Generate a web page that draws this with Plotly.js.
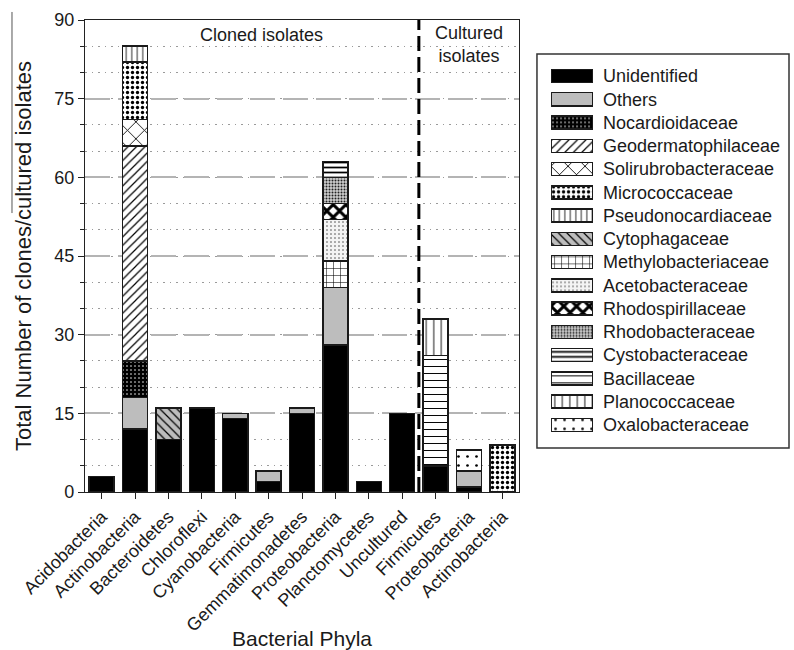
<!DOCTYPE html>
<html>
<head>
<meta charset="utf-8">
<script src="https://cdn.plot.ly/plotly-3.0.1.min.js"></script>
<style>
  html, body { margin: 0; padding: 0; background: #fff; }
  #chart { width: 794px; height: 650px; }
</style>
</head>
<body>
<div id="chart"></div>
<script>
// Phyla along the x axis: ten cloned groups, then three cultured groups
const categories = ['Acidobacteria', 'Actinobacteria', 'Bacteroidetes', 'Chloroflexi',
  'Cyanobacteria', 'Firmicutes', 'Gemmatimonadetes', 'Proteobacteria', 'Planctomycetes',
  'Uncultured', 'Firmicutes', 'Proteobacteria', 'Actinobacteria'];

// Counts per family, one value per phylum above (stacked bottom to top in this order)
const unidentified         = [3, 12, 10, 16, 14, 2, 15, 28, 2, 15, 5, 1, 0];
const others               = [0, 6, 0, 0, 1, 2, 1, 11, 0, 0, 0, 3, 0];
const nocardioidaceae      = [0, 7, 0, 0, 0, 0, 0, 0, 0, 0, 0, 0, 0];
const geodermatophilaceae  = [0, 41, 0, 0, 0, 0, 0, 0, 0, 0, 0, 0, 0];
const solirubrobacteraceae = [0, 5, 0, 0, 0, 0, 0, 0, 0, 0, 0, 0, 0];
const micrococcaceae       = [0, 11, 0, 0, 0, 0, 0, 0, 0, 0, 0, 0, 9];
const pseudonocardiaceae   = [0, 3, 0, 0, 0, 0, 0, 0, 0, 0, 0, 0, 0];
const cytophagaceae        = [0, 0, 6, 0, 0, 0, 0, 0, 0, 0, 0, 0, 0];
const methylobacteriaceae  = [0, 0, 0, 0, 0, 0, 0, 5, 0, 0, 0, 0, 0];
const acetobacteraceae     = [0, 0, 0, 0, 0, 0, 0, 8, 0, 0, 0, 0, 0];
const rhodospirillaceae    = [0, 0, 0, 0, 0, 0, 0, 3, 0, 0, 0, 0, 0];
const rhodobacteraceae     = [0, 0, 0, 0, 0, 0, 0, 5, 0, 0, 0, 0, 0];
const cystobacteraceae     = [0, 0, 0, 0, 0, 0, 0, 3, 0, 0, 0, 0, 0];
const bacillaceae          = [0, 0, 0, 0, 0, 0, 0, 0, 0, 0, 21, 0, 0];
const planococcaceae       = [0, 0, 0, 0, 0, 0, 0, 0, 0, 0, 7, 0, 0];
const oxalobacteraceae     = [0, 0, 0, 0, 0, 0, 0, 0, 0, 0, 0, 4, 0];

const yTicks = [0, 15, 30, 45, 60, 75, 90];

const series = [
  ['Unidentified', unidentified],
  ['Others', others],
  ['Nocardioidaceae', nocardioidaceae],
  ['Geodermatophilaceae', geodermatophilaceae],
  ['Solirubrobacteraceae', solirubrobacteraceae],
  ['Micrococcaceae', micrococcaceae],
  ['Pseudonocardiaceae', pseudonocardiaceae],
  ['Cytophagaceae', cytophagaceae],
  ['Methylobacteriaceae', methylobacteriaceae],
  ['Acetobacteraceae', acetobacteraceae],
  ['Rhodospirillaceae', rhodospirillaceae],
  ['Rhodobacteraceae', rhodobacteraceae],
  ['Cystobacteraceae', cystobacteraceae],
  ['Bacillaceae', bacillaceae],
  ['Planococcaceae', planococcaceae],
  ['Oxalobacteraceae', oxalobacteraceae]
];

// Fill style of each family
const W = '#ffffff', K = '#000000', G = '#bdbdbd';
const fills = {
  'Unidentified':         { color: K },
  'Others':               { color: G },
  'Nocardioidaceae':      { color: K, pattern: { shape: '.', fgcolor: W, bgcolor: K, size: 4, solidity: 0.12 } },
  'Geodermatophilaceae':  { color: W, pattern: { shape: '/', fgcolor: K, bgcolor: W, size: 6, solidity: 0.2 } },
  'Solirubrobacteraceae': { color: W, pattern: { shape: 'x', fgcolor: K, bgcolor: W, size: 12, solidity: 0.14 } },
  'Micrococcaceae':       { color: W, pattern: { shape: '.', fgcolor: K, bgcolor: W, size: 5, solidity: 0.35 } },
  'Pseudonocardiaceae':   { color: W, pattern: { shape: '|', fgcolor: K, bgcolor: W, size: 5.5, solidity: 0.15 } },
  'Cytophagaceae':        { color: G, pattern: { shape: '\\', fgcolor: K, bgcolor: G, size: 6, solidity: 0.2 } },
  'Methylobacteriaceae':  { color: W, pattern: { shape: '+', fgcolor: K, bgcolor: W, size: 7, solidity: 0.15 } },
  'Acetobacteraceae':     { color: W, pattern: { shape: '.', fgcolor: '#444', bgcolor: '#f4f4f4', size: 4, solidity: 0.12 } },
  'Rhodospirillaceae':    { color: W, pattern: { shape: 'x', fgcolor: K, bgcolor: W, size: 9, solidity: 0.55 } },
  'Rhodobacteraceae':     { color: W, pattern: { shape: '.', fgcolor: '#222', bgcolor: '#cfcfcf', size: 3, solidity: 0.35 } },
  'Cystobacteraceae':     { color: W, pattern: { shape: '-', fgcolor: K, bgcolor: W, size: 5, solidity: 0.35 } },
  'Bacillaceae':          { color: W, pattern: { shape: '-', fgcolor: K, bgcolor: W, size: 7, solidity: 0.14 } },
  'Planococcaceae':       { color: W, pattern: { shape: '|', fgcolor: K, bgcolor: W, size: 7.5, solidity: 0.12 } },
  'Oxalobacteraceae':     { color: W, pattern: { shape: '.', fgcolor: K, bgcolor: W, size: 9, solidity: 0.07 } }
};

const FONT = 'Liberation Sans, Arial, Helvetica, sans-serif';
const xIndex = categories.map((_, i) => i);

function markerFor(name) {
  const f = fills[name];
  const m = { color: f.color, line: { color: '#1a1a1a', width: 1.5 } };
  if (f.pattern) m.pattern = Object.assign({ fillmode: 'replace' }, f.pattern);
  return m;
}

const traces = [];

// Stacked bars of the main panel
series.forEach(([name, vals]) => {
  traces.push({
    type: 'bar',
    name: name,
    x: xIndex,
    y: vals.map(v => (v > 0 ? v : null)),
    width: 0.75,
    marker: markerFor(name),
    showlegend: false,
    hoverinfo: 'skip',
    xaxis: 'x', yaxis: 'y'
  });
});

// Key: one wide swatch per family, labelled by the category axis beside it
series.forEach(([name]) => {
  traces.push({
    type: 'bar',
    orientation: 'h',
    name: name,
    x: [1],
    y: [name],
    width: 0.56,
    marker: markerFor(name),
    showlegend: false,
    hoverinfo: 'skip',
    xaxis: 'x2', yaxis: 'y2'
  });
});

const layout = {
  width: 794,
  height: 650,
  margin: { l: 85, r: 5, t: 20, b: 158 },
  paper_bgcolor: '#ffffff',
  plot_bgcolor: '#ffffff',
  barmode: 'stack',
  showlegend: false,
  font: { family: FONT, size: 18, color: '#1a1a1a' },
  xaxis: {
    domain: [0, 0.6165],
    range: [-0.5, 12.5],
    tickmode: 'array',
    tickvals: xIndex,
    ticktext: categories,
    tickangle: -45,
    ticks: 'outside',
    ticklen: 6,
    tickwidth: 1,
    tickcolor: '#222',
    showline: true,
    linecolor: '#222',
    linewidth: 1.2,
    mirror: true,
    showgrid: false,
    zeroline: false,
    tickfont: { family: FONT, size: 18, color: '#1a1a1a' },
    title: { text: 'Bacterial Phyla', font: { family: FONT, size: 21, color: '#1a1a1a' }, standoff: 6 }
  },
  yaxis: {
    range: [0, 90],
    tickmode: 'array',
    tickvals: yTicks,
    ticks: 'outside',
    ticklen: 6,
    tickwidth: 1,
    tickcolor: '#222',
    showline: true,
    linecolor: '#222',
    linewidth: 1.2,
    mirror: true,
    zeroline: false,
    showgrid: true,
    gridcolor: '#b4b4b4',
    gridwidth: 2,
    griddash: '25px,8px',
    minor: {
      dtick: 5,
      ticks: 'outside',
      ticklen: 4,
      tickcolor: '#222',
      showgrid: true,
      gridcolor: '#9a9a9a',
      gridwidth: 1,
      griddash: '1.5px,5px'
    },
    tickfont: { family: FONT, size: 18, color: '#1a1a1a' },
    title: { text: 'Total Number of clones/cultured isolates', font: { family: FONT, size: 22, color: '#1a1a1a' } }
  },
  xaxis2: {
    domain: [0.662, 0.7216],
    range: [0, 1],
    anchor: 'y2',
    visible: false,
    fixedrange: true
  },
  yaxis2: {
    domain: [0.1174, 0.906],
    anchor: 'x2',
    side: 'right',
    type: 'category',
    autorange: 'reversed',
    showline: false,
    showgrid: false,
    zeroline: false,
    ticks: '',
    ticklabelstandoff: 9,
    tickfont: { family: FONT, size: 18, color: '#1a1a1a' },
    fixedrange: true
  },
  shapes: [
    // divider between cloned and cultured groups
    { type: 'line', xref: 'x', yref: 'y', x0: 9.5, x1: 9.5, y0: 0, y1: 90,
      line: { color: '#000', width: 3, dash: '15px,6px' } },
    // frame round the key
    { type: 'rect', xref: 'paper', yref: 'paper', x0: 0.642, x1: 1.0, y0: 0.0932, y1: 0.928,
      line: { color: '#333', width: 1.5 }, fillcolor: 'rgba(0,0,0,0)' },
    // thin rule beside the axis title
    { type: 'line', xref: 'paper', yref: 'paper', x0: -0.1037, x1: -0.1037, y0: 0.591, y1: 1.017,
      line: { color: '#555', width: 1 } }
  ],
  annotations: [
    { text: 'Cloned isolates', xref: 'x', yref: 'y', x: 4.8, y: 87.1, showarrow: false,
      font: { family: FONT, size: 18, color: '#1a1a1a' } },
    { text: 'Cultured<br>isolates', xref: 'x', yref: 'y', x: 11, y: 85.3, showarrow: false,
      font: { family: FONT, size: 18, color: '#1a1a1a' } }
  ]
};

Plotly.newPlot('chart', traces, layout, { staticPlot: true, displayModeBar: false });
</script>
</body>
</html>
